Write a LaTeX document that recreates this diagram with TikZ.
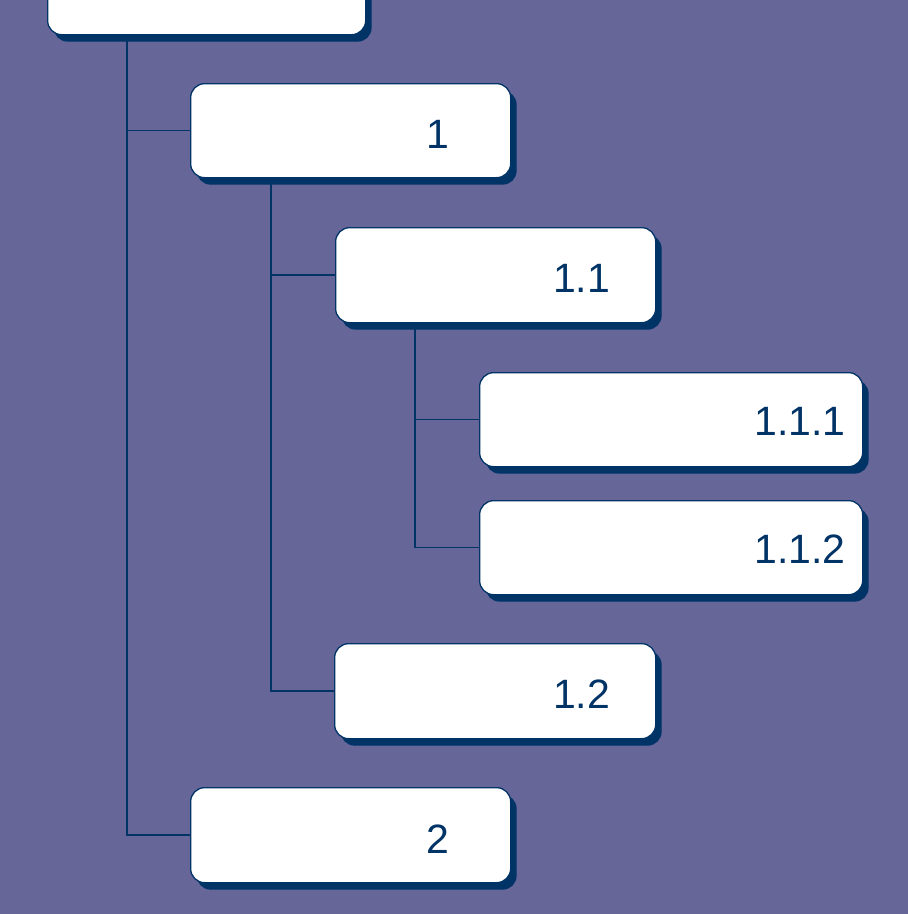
\documentclass[tikz,border=0pt]{standalone}
\usepackage{fontspec}
\setmainfont{Liberation Sans}
\usetikzlibrary{shadows}
\definecolor{bgc}{HTML}{666699}
\definecolor{navy}{HTML}{003366}
\pgfdeclarelayer{bglayer}
\pgfdeclarelayer{lines}
\pgfsetlayers{bglayer,lines,main}
\begin{document}
\begin{tikzpicture}[x=1pt,y=-1pt,
  box/.style={draw=navy, line width=1.3pt, fill=white, rounded corners=14pt,
    inner sep=0pt, anchor=north west,
    drop shadow={shadow xshift=6pt, shadow yshift=-7pt, fill=navy, opacity=1}},
  lbl/.style={text=navy, font=\fontsize{41}{48}\selectfont, anchor=base west, inner sep=0pt},
  conn/.style={draw=navy, line width=1.4pt}]
\useasboundingbox (0,0) rectangle (908,914);
\clip (0,0) rectangle (908,914);
\begin{pgfonlayer}{bglayer}
\fill[bgc] (0,0) rectangle (908,914);
\end{pgfonlayer}
% boxes
\node[box, minimum width=318pt, minimum height=100pt] (root) at (47,-66) {};
\node[box, minimum width=320pt, minimum height=94pt] (b1) at (190,83) {};
\node[box, minimum width=320pt, minimum height=95pt] (b11) at (335,227) {};
\node[box, minimum width=383pt, minimum height=94pt] (b111) at (479,372) {};
\node[box, minimum width=383pt, minimum height=94pt] (b112) at (479,500) {};
\node[box, minimum width=321pt, minimum height=95pt] (b12) at (334,643) {};
\node[box, minimum width=320pt, minimum height=95pt] (b2) at (190,787) {};
% labels
\node[lbl] (t1) at (426,148) {1};
\node[lbl] (t11) at (553,292) {1.1};
\node[lbl] (t111) at (754,435) {1.1.1};
\node[lbl] (t112) at (754,563) {1.1.2};
\node[lbl] (t12) at (553,708) {1.2};
\node[lbl] (t2) at (426,853) {2};
% connectors
\begin{pgfonlayer}{lines}
\draw[conn] ([xshift=80pt]root.south west) |- (b1.west);
\draw[conn] ([xshift=80pt]root.south west) |- (b2.west);
\draw[conn] ([xshift=81pt]b1.south west) |- (b11.west);
\draw[conn] ([xshift=81pt]b1.south west) |- (b12.west);
\draw[conn] ([xshift=80pt]b11.south west) |- (b111.west);
\draw[conn] ([xshift=80pt]b11.south west) |- (b112.west);
\end{pgfonlayer}
\end{tikzpicture}
\end{document}
